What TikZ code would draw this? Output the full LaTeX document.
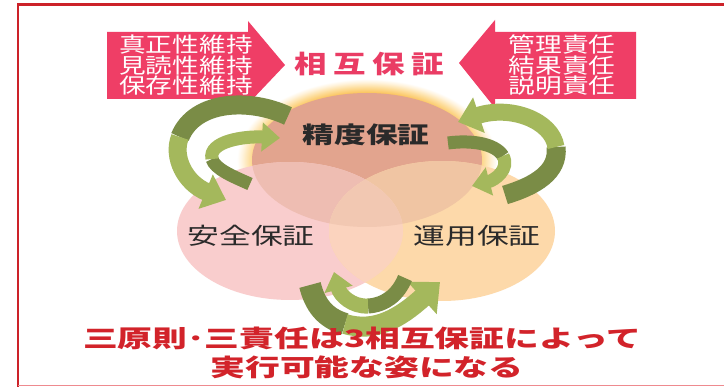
\documentclass[tikz,border=0pt]{standalone}
\usepackage{fontspec}
\newfontfamily\jp{Noto Sans CJK JP}
\usetikzlibrary{arrows.meta}
\definecolor{frameRed}{HTML}{CC2229}
\definecolor{framePink}{HTML}{EE8A8F}
\definecolor{arrPink}{HTML}{EF3E66}
\definecolor{titleRed}{HTML}{EA3C64}
\definecolor{botRed}{HTML}{D2232A}
\definecolor{topc}{HTML}{E2A48E}
\definecolor{leftc}{HTML}{F9CDCD}
\definecolor{rightc}{HTML}{FDD9AA}
\definecolor{tlc}{HTML}{EEBDB2}
\definecolor{trc}{HTML}{F0C5A3}
\definecolor{lrc}{HTML}{FBD3BE}
\definecolor{tlrc}{HTML}{F2C8B2}
\definecolor{glowc}{HTML}{FBC155}
\definecolor{glowm}{HTML}{FDDC98}
\definecolor{glowl}{HTML}{FFF3DC}
\definecolor{gD}{HTML}{7A8C46}
\definecolor{gL}{HTML}{A4B85C}
\definecolor{txtDark}{HTML}{2A2A2A}
\pgfdeclareradialshading{glowsh}{\pgfpoint{0bp}{0bp}}{color(0bp)=(glowc); color(20.6bp)=(glowc); color(22.4bp)=(glowm); color(24bp)=(glowl); color(25bp)=(white); color(50bp)=(white)}
\tikzset{
  gdark/.style={draw=gD, line width=#1},
  glight/.style={draw=gL, line width=#1},
  bighead/.style={-{Triangle[width=36pt,length=22pt]}},
  smallhead/.style={-{Triangle[width=28pt,length=18pt]}},
  pinktxt/.style={text=white, font=\jp\fontsize{21}{20.5}\selectfont, align=center, xscale=1.27, inner sep=0pt},
  circtxt/.style={text=txtDark, font=\jp\fontsize{23}{23}\selectfont, xscale=1.38, inner sep=0pt},
  bottxt/.style={text=botRed, font=\jp\bfseries\fontsize{24}{24}\selectfont, xscale=1.45, inner sep=0pt},
}
\begin{document}
\begin{tikzpicture}[x=1pt,y=-1pt]
\useasboundingbox (0,0) rectangle (724,387);
\fill[white] (0,0) rectangle (724,387);
% frame
\draw[frameRed, line width=2.5pt] (18,387) -- (18,4.5) -- (724,4.5);
\draw[framePink, line width=1.5pt] (18,385.5) -- (724,385.5);
% centres
\coordinate (ct) at (367,160);
\coordinate (cl) at (290,231);
\coordinate (cr) at (442,231);
% glow
\shade[shading=glowsh] (ct) ellipse [x radius=130, y radius=81];
% circles
\fill[topc] (ct) ellipse [x radius=115, y radius=67];
\fill[leftc] (cl) ellipse [x radius=113, y radius=69];
\fill[rightc] (cr) ellipse [x radius=113, y radius=70];
\begin{scope}
  \clip (cl) ellipse [x radius=113, y radius=69];
  \fill[tlc] (ct) ellipse [x radius=115, y radius=67];
\end{scope}
\begin{scope}
  \clip (cr) ellipse [x radius=113, y radius=70];
  \fill[trc] (ct) ellipse [x radius=115, y radius=67];
\end{scope}
\begin{scope}
  \clip (cl) ellipse [x radius=113, y radius=69];
  \fill[lrc] (cr) ellipse [x radius=113, y radius=70];
\end{scope}
\begin{scope}
  \clip (cl) ellipse [x radius=113, y radius=69];
  \clip (cr) ellipse [x radius=113, y radius=70];
  \fill[tlrc] (ct) ellipse [x radius=115, y radius=67];
\end{scope}
% pink block arrows
\fill[arrPink] (107,32) -- (248,32) -- (248,21) -- (285,65) -- (248,104) -- (248,99) -- (107,99) -- cycle;
\fill[arrPink] (636,32) -- (495,32) -- (495,20) -- (459,63) -- (495,108) -- (495,99) -- (636,99) -- cycle;
% green arrows, upper left
\coordinate (a1s) at (288,116); \coordinate (a1m) at (180,137); \coordinate (a1e) at (226,200);
\draw[gdark=19pt] (a1s) .. controls (250,98) and (195,100) .. (a1m);
\draw[glight=18pt, bighead] (a1m) .. controls (172,157) and (185,183) .. (a1e);
\coordinate (a2s) at (250,184); \coordinate (a2m) at (212,159); \coordinate (a2e) at (280,138);
\draw[gdark=13pt] (a2s) .. controls (232,176) and (215,169) .. (a2m);
\draw[glight=13pt, smallhead] (a2m) .. controls (208,141) and (245,136) .. (a2e);
% green arrows, upper right
\coordinate (b1s) at (505,195); \coordinate (b1m) at (556,147); \coordinate (b1e) at (458,122);
\draw[gdark=19pt] (b1s) .. controls (535,186) and (559,172) .. (b1m);
\draw[glight=17pt, bighead] (b1m) .. controls (552,120) and (510,105) .. (b1e);
\coordinate (b2s) at (448,143); \coordinate (b2m) at (503,156); \coordinate (b2e) at (472,186);
\draw[gdark=13pt] (b2s) .. controls (470,140) and (495,143) .. (b2m);
\draw[glight=13pt, smallhead] (b2m) .. controls (510,169) and (495,180) .. (b2e);
% green arrows, bottom
\coordinate (c1s) at (310,285); \coordinate (c1m) at (345,324); \coordinate (c1e) at (440,282);
\draw[gdark=22pt] (c1s) .. controls (315,305) and (325,318) .. (c1m);
\draw[glight=20pt, -{Triangle[width=42pt,length=24pt]}] (c1m) .. controls (375,333) and (400,318) .. (c1e);
\coordinate (c2s) at (405,278); \coordinate (c2m) at (368,306); \coordinate (c2e) at (334,272);
\draw[gdark=15pt] (c2s) .. controls (398,295) and (385,305) .. (c2m);
\draw[glight=15pt, smallhead] (c2m) .. controls (352,307) and (340,295) .. (c2e);
% texts
\node[pinktxt] (ltxt) at (186,65.5) {真正性維持\\見読性維持\\保存性維持};
\node[pinktxt] (rtxt) at (562,65.5) {管理責任\\結果責任\\説明責任};
\node[text=titleRed, font=\jp\bfseries\fontsize{25}{25}\selectfont, xscale=1.3, inner sep=0pt] (title) at (369,64) {相\hspace{5pt}互\hspace{5pt}保\hspace{5pt}証};
\node[circtxt, font=\jp\bfseries\fontsize{23}{23}\selectfont] (seido) at (366,135) {精度保証};
\node[circtxt] (anzen) at (251,236) {安全保証};
\node[circtxt] (unyo) at (477,236) {運用保証};
\node[bottxt] (b1) at (362,338) {三原則･三責任は3相互保証によって};
\node[bottxt] (b2) at (367,367) {実行可能な姿になる};
\end{tikzpicture}
\end{document}
